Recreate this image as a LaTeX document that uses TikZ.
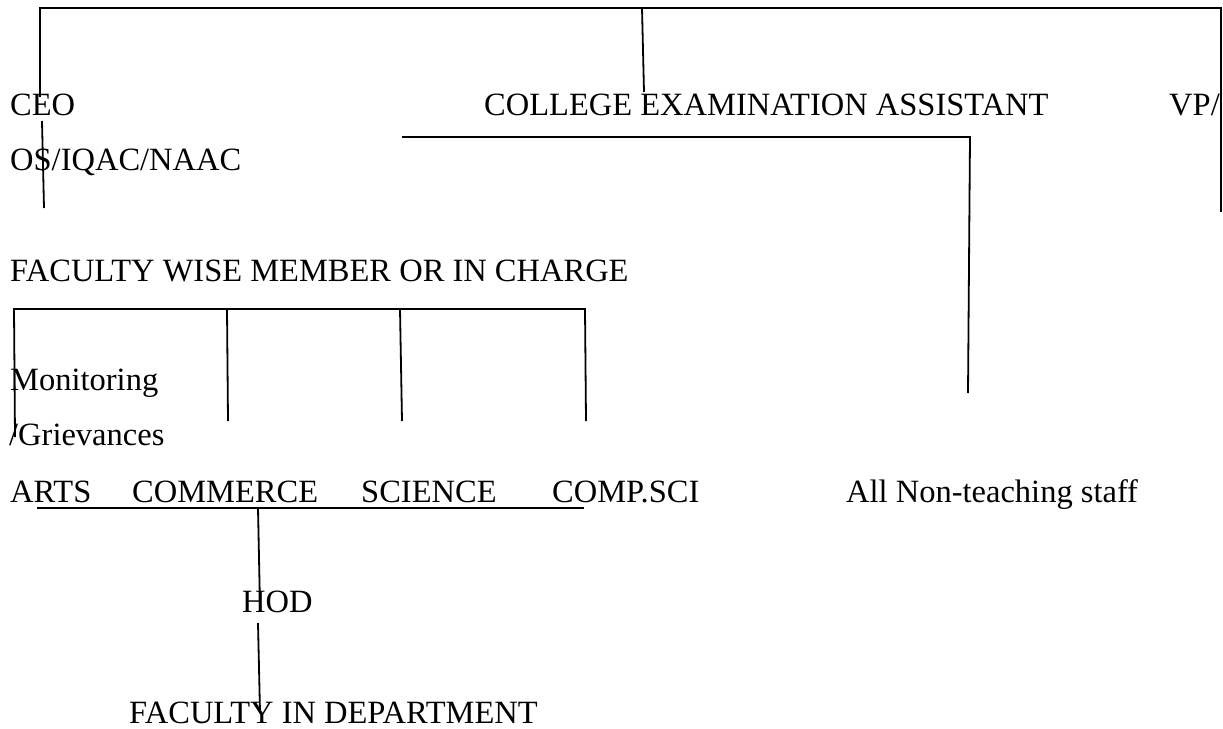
\documentclass[tikz,border=0pt]{standalone}
\usepackage{fontspec}
\setmainfont{Liberation Serif}
\begin{document}
\begin{tikzpicture}[x=1pt,y=-1pt,
  txt/.style={anchor=base west,inner sep=0pt,font=\fontsize{32.5}{38}\selectfont},
  ln/.style={line width=1.8pt,black}]
\useasboundingbox (0,0) rectangle (1223,728);
% texts
\node[txt] (ceo) at (10,115) {CEO};
\node[txt] (cea) at (484,115) {COLLEGE EXAMINATION ASSISTANT};
\node[txt] (vp) at (1169,115) {VP/};
\node[txt] (os) at (10,170) {OS/IQAC/NAAC};
\node[txt] (fw) at (10,281) {FACULTY WISE MEMBER OR IN CHARGE};
\node[txt] (mon) at (10,390) {Monitoring};
\node[txt] (gri) at (9,445) {/Grievances};
\node[txt] (arts) at (10,502) {ARTS};
\node[txt] (com) at (132,502) {COMMERCE};
\node[txt] (sci) at (361,502) {SCIENCE};
\node[txt] (cs) at (552,502) {COMP.SCI};
\node[txt] (nts) at (846,502) {All Non-teaching staff};
\node[txt] (hod) at (242,612) {HOD};
\node[txt] (fid) at (129,723) {FACULTY IN DEPARTMENT};
% coordinates
\coordinate (tl) at (40,8);
\coordinate (tr) at (1221,8);
\coordinate (tm) at (642,8);
\coordinate (ceoT) at (40,97);
\coordinate (ceoB1) at (42,121);
\coordinate (ceoB2) at (44,208);
\coordinate (ceaT) at (644,92);
\coordinate (vpE) at (1221,212);
\coordinate (h1) at (402,137);
\coordinate (h2) at (970,137);
\coordinate (h3) at (968,393);
\coordinate (b0) at (14,309);
\coordinate (b1) at (227,309);
\coordinate (b2) at (400,309);
\coordinate (b3) at (585,309);
\coordinate (d0) at (15,437);
\coordinate (d1) at (228,421);
\coordinate (d2) at (402,421);
\coordinate (d3) at (586,421);
\coordinate (u0) at (37,508);
\coordinate (u1) at (584,508);
\coordinate (um) at (258,508);
\coordinate (hodT) at (260,607);
\coordinate (hodB) at (258,623);
\coordinate (fidT) at (260,712);
% connectors
\draw[ln] (ceoT) -- (tl) -- (tr) -- (vpE);
\draw[ln] (tm) -- (ceaT);
\draw[ln] (ceoB1) -- (ceoB2);
\draw[ln] (h1) -- (h2) -- (h3);
\draw[ln] (d0) -- (b0) -- (b3) -- (d3);
\draw[ln] (b1) -- (d1);
\draw[ln] (b2) -- (d2);
\draw[ln] (u0) -- (u1);
\draw[ln] (um) -- (hodT);
\draw[ln] (hodB) -- (fidT);
\end{tikzpicture}
\end{document}
